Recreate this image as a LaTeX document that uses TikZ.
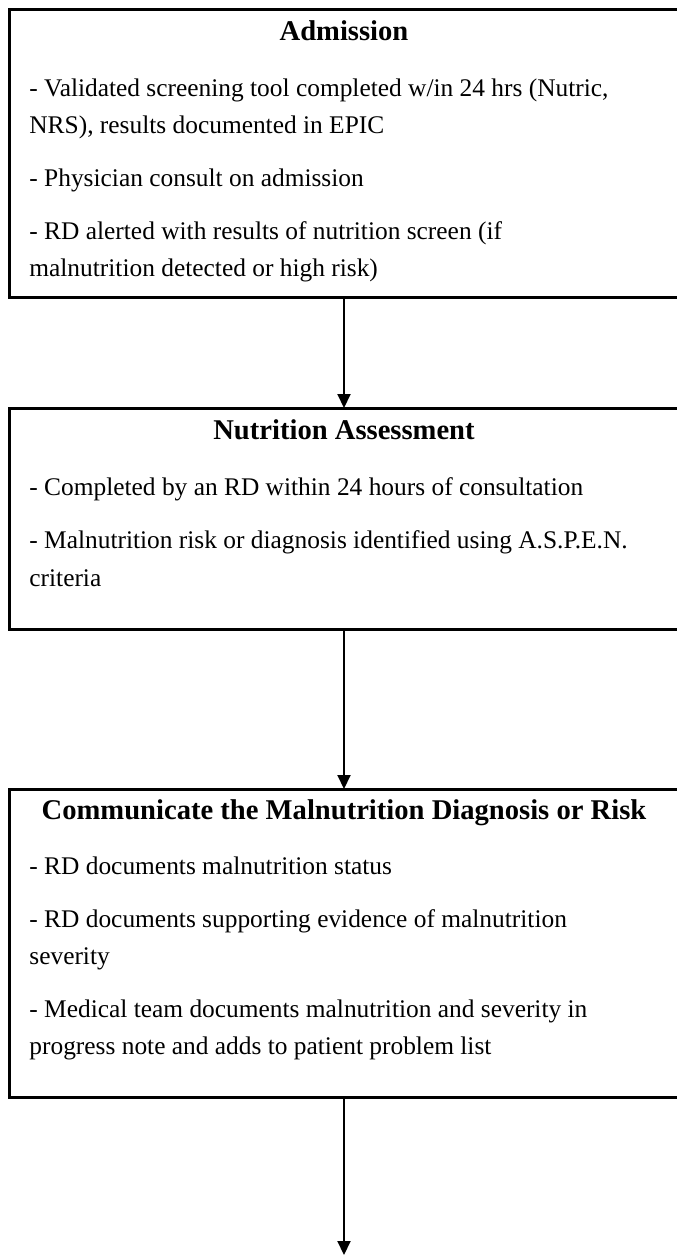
\documentclass[tikz,border=0pt]{standalone}
\usepackage{fontspec}
\setmainfont{Liberation Serif}
\usetikzlibrary{arrows.meta}
\begin{document}
\begin{tikzpicture}[x=0.5pt,y=-0.5pt,
  box/.style={draw, line width=1.5pt, inner sep=0pt, outer sep=0pt, anchor=north west, minimum width=335pt},
  ttl/.style={anchor=base, font=\bfseries\fontsize{14.3}{18.5}\selectfont, inner sep=0pt},
  txt/.style={anchor=base west, font=\fontsize{12.7}{18.5}\selectfont, inner sep=0pt},
  arr/.style={line width=1pt, -{Triangle[width=6.5pt,length=7pt]}}]
\useasboundingbox (0,0) rectangle (676,1255);
% boxes
\node[box, minimum height=144pt] (b1) at (9,9) {};
\node[box, minimum height=110.5pt] (b2) at (9,408) {};
\node[box, minimum height=154pt] (b3) at (9,789) {};
\coordinate (end) at (344,1255);
% box 1
\node[ttl] (t1) at (344,40) {Admission};
\node[txt] (a1) at (29,96) {- Validated screening tool completed w/in 24 hrs (Nutric,};
\node[txt] (a2) at (29,133) {NRS), results documented in EPIC};
\node[txt] (a3) at (29,186) {- Physician consult on admission};
\node[txt] (a4) at (29,239) {- RD alerted with results of nutrition screen (if};
\node[txt] (a5) at (29,276) {malnutrition detected or high risk)};
% box 2
\node[ttl] (t2) at (344,439) {Nutrition Assessment};
\node[txt] (n1) at (29,495) {- Completed by an RD within 24 hours of consultation};
\node[txt] (n2) at (29,548) {- Malnutrition risk or diagnosis identified using A.S.P.E.N.};
\node[txt] (n3) at (29,586) {criteria};
% box 3
\node[ttl] (t3) at (344,819) {Communicate the Malnutrition Diagnosis or Risk};
\node[txt] (c1) at (29,874) {- RD documents malnutrition status};
\node[txt] (c2) at (29,927) {- RD documents supporting evidence of malnutrition};
\node[txt] (c3) at (29,964) {severity};
\node[txt] (c4) at (29,1017) {- Medical team documents malnutrition and severity in};
\node[txt] (c5) at (29,1054) {progress note and adds to patient problem list};
% arrows
\draw[arr] (b1.south) -- (b2.north);
\draw[arr] (b2.south) -- (b3.north);
\draw[arr] (b3.south) -- (end);
\end{tikzpicture}
\end{document}
